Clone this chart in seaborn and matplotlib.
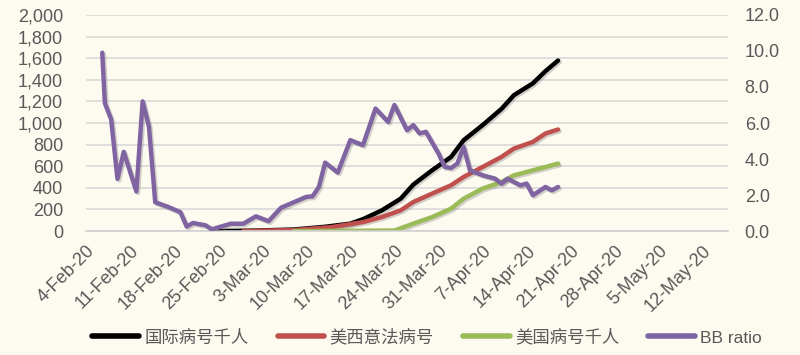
import matplotlib
matplotlib.use("Agg")
import matplotlib.pyplot as plt
import matplotlib.patheffects as pe
from matplotlib.ticker import FuncFormatter
import seaborn as sns
import pandas as pd

# ---------------- data ----------------
intl_dates = ["2020-02-25", "2020-03-02", "2020-03-08", "2020-03-13", "2020-03-17",
              "2020-03-19", "2020-03-22", "2020-03-25", "2020-03-27", "2020-03-30",
              "2020-04-02", "2020-04-04", "2020-04-07", "2020-04-10", "2020-04-12",
              "2020-04-15", "2020-04-17", "2020-04-19"]
intl_vals = [0, 5, 15, 40, 69, 110, 192, 300, 430, 563, 686, 841, 980, 1130, 1258,
             1367, 1480, 1578]

eu_dates = ["2020-02-29", "2020-03-08", "2020-03-14", "2020-03-19", "2020-03-22",
            "2020-03-25", "2020-03-27", "2020-03-30", "2020-04-02", "2020-04-04",
            "2020-04-07", "2020-04-10", "2020-04-12", "2020-04-15", "2020-04-17",
            "2020-04-19"]
eu_vals = [0, 10, 37, 83, 130, 192, 269, 347, 424, 501, 593, 686, 764, 825, 903, 940]

us_dates = ["2020-03-08", "2020-03-24", "2020-03-27", "2020-03-30", "2020-04-02",
            "2020-04-04", "2020-04-07", "2020-04-10", "2020-04-12", "2020-04-15",
            "2020-04-17", "2020-04-19"]
us_vals = [0, 5, 69, 130, 208, 300, 393, 454, 516, 563, 593, 625]

bb_dates = ["2020-02-06 14:00", "2020-02-07", "2020-02-08", "2020-02-09", "2020-02-10",
            "2020-02-12", "2020-02-13", "2020-02-14", "2020-02-15", "2020-02-17",
            "2020-02-19", "2020-02-20", "2020-02-21", "2020-02-23", "2020-02-24",
            "2020-02-27", "2020-02-29", "2020-03-02", "2020-03-04", "2020-03-06",
            "2020-03-08", "2020-03-10", "2020-03-11", "2020-03-12", "2020-03-13",
            "2020-03-15", "2020-03-17", "2020-03-19", "2020-03-21", "2020-03-23",
            "2020-03-24", "2020-03-26", "2020-03-27", "2020-03-28", "2020-03-29",
            "2020-03-31", "2020-04-01", "2020-04-02", "2020-04-03", "2020-04-04",
            "2020-04-05", "2020-04-07", "2020-04-09", "2020-04-10", "2020-04-11",
            "2020-04-13", "2020-04-14", "2020-04-15", "2020-04-17", "2020-04-18",
            "2020-04-19"]
bb_vals = [9.9, 7.1, 6.2, 2.9, 4.4, 2.2, 7.2, 5.8, 1.6, 1.35,
           1.05, 0.25, 0.45, 0.32, 0.1, 0.41, 0.41, 0.82, 0.55, 1.3,
           1.6, 1.9, 1.93, 2.45, 3.8, 3.25, 5.05, 4.77, 6.8, 6.06,
           7.0, 5.6, 5.88, 5.42, 5.51, 4.31, 3.56, 3.5, 3.75, 4.67,
           3.38, 3.1, 2.91, 2.64, 2.91, 2.54, 2.64, 1.99, 2.45, 2.26,
           2.45]

series_names = ["国际病号千人", "美西意法病号", "美国病号千人", "BB ratio"]
series_colors = ["#000000", "#c0504d", "#9bbb59", "#8064a2"]

left_ticks = [0, 200, 400, 600, 800, 1000, 1200, 1400, 1600, 1800, 2000]
right_ticks = [0, 2, 4, 6, 8, 10, 12]
x_start, x_end = "2020-02-04", "2020-05-16"
x_tick_first, x_tick_last = "2020-02-04", "2020-05-12"

# ---------------- style ----------------
bg = "#fdfaf0"
sns.set_theme(style="white")
plt.rcParams['font.family'] = ['Liberation Sans', 'Noto Sans CJK SC', 'DejaVu Sans']
txt_color = "#595959"

fig = plt.figure(figsize=(8, 3.55), dpi=100)
fig.patch.set_facecolor(bg)
ax = fig.add_axes([0.1075, 0.349, 0.8025, 0.609])
ax.set_facecolor(bg)
ax2 = ax.twinx()
ax2.patch.set_visible(False)

shadow = [pe.SimpleLineShadow(offset=(1.2, -1.2), alpha=0.25, shadow_color="#555555"),
          pe.Normal()]

def frame(dates, vals):
    return pd.DataFrame({"date": pd.to_datetime(dates, format="ISO8601"), "value": vals})

left_sets = [(intl_dates, intl_vals), (eu_dates, eu_vals), (us_dates, us_vals)]
handles = []
for (d, v), name, col in zip(left_sets, series_names[:3], series_colors[:3]):
    df = frame(d, v)
    sns.lineplot(data=df, x="date", y="value", ax=ax, color=col, linewidth=3.2,
                 label=name, legend=False)
    ln = ax.lines[-1]
    ln.set_path_effects(shadow)
    ln.set_solid_capstyle("round")
    ln.set_solid_joinstyle("round")
    handles.append(ln)

dfb = frame(bb_dates, bb_vals)
sns.lineplot(data=dfb, x="date", y="value", ax=ax2, color=series_colors[3], linewidth=3.2,
             label=series_names[3], legend=False)
lb = ax2.lines[-1]
lb.set_path_effects(shadow)
lb.set_solid_capstyle("round")
lb.set_solid_joinstyle("round")
handles.append(lb)

# axes ranges
ax.set_xlim(pd.Timestamp(x_start), pd.Timestamp(x_end))
ax.set_ylim(0, 2000)
ax2.set_ylim(0, 12)
for a in (ax, ax2):
    a.set_xlabel("")
    a.set_ylabel("")

# ticks
ax.set_yticks(left_ticks)
ax.yaxis.set_major_formatter(FuncFormatter(lambda v, p: f"{int(v):,}"))
ax2.set_yticks(right_ticks)
ax2.yaxis.set_major_formatter(FuncFormatter(lambda v, p: f"{v:.1f}"))

xt = pd.date_range(x_tick_first, x_tick_last, freq="7D")
ax.set_xticks(xt)
ax.set_xticklabels([f"{d.day}-{d.strftime('%b')}-{d.strftime('%y')}" for d in xt],
                   rotation=45, ha="right", rotation_mode="anchor")

ax.grid(axis="y", color="#d9d9d9", linewidth=1.2)
ax.grid(axis="x", visible=False)
ax2.grid(False)
for a in (ax, ax2):
    for s in a.spines.values():
        s.set_visible(False)
ax.spines["bottom"].set_visible(True)
ax.spines["bottom"].set_color("#d0d0d0")
ax.spines["bottom"].set_linewidth(1.2)

ax.tick_params(axis="x", which="major", length=4, color="#d0d0d0", width=1,
               labelsize=13, labelcolor=txt_color, pad=4, direction="out")
ax.tick_params(axis="y", length=0, labelsize=13, labelcolor=txt_color, pad=16.5)
ax2.tick_params(axis="y", length=0, labelsize=13, labelcolor=txt_color, pad=12)

leg = fig.legend(handles, series_names, loc="center", bbox_to_anchor=(0.534, 0.05),
                 ncol=4, frameon=False, fontsize=12.5, handlelength=2.7,
                 handletextpad=0.3, columnspacing=1.67, labelcolor=txt_color)
for h in leg.legend_handles:
    h.set_linewidth(4)
    h.set_path_effects([])

fig.savefig("out.png", dpi=100, facecolor=bg)
